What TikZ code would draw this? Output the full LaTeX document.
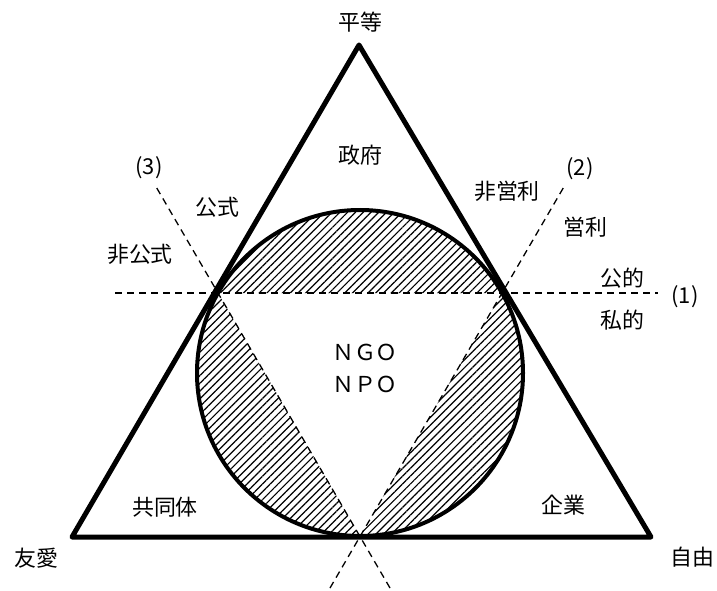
\documentclass[tikz,border=0pt]{standalone}
\usepackage{fontspec}
\setmainfont{Noto Sans CJK JP}
\usetikzlibrary{patterns.meta}
\begin{document}
\begin{tikzpicture}[x=1bp,y=-1bp,
  lbl/.style={font=\fontsize{22}{26}\selectfont, inner sep=0pt},
  dline/.style={dash pattern=on 7bp off 5bp, line width=1.3bp},
  hatch/.style={pattern={Lines[angle=45,distance=5.5bp,line width=1.2bp]}},
  thick circ/.style={line width=4bp},
  tri/.style={line width=5bp, line join=round}]
\path[fill=white] (0,0) rectangle (717,591);
\useasboundingbox (0,0) rectangle (717,591);
% geometry
\coordinate (C) at (360,373);
\coordinate (T) at (359,45);
\coordinate (BL) at (72,537);
\coordinate (BR) at (651,537);
\coordinate (P1) at (218,293);
\coordinate (P2) at (502,293);
\coordinate (B) at (360,536);
\coordinate (L1a) at (115,293);
\coordinate (L1b) at (658,293);
\coordinate (L2a) at (330,588);
\coordinate (L2b) at (565,185);
\coordinate (L3a) at (390,588);
\coordinate (L3b) at (155,185);
% hatched region
\fill[hatch, even odd rule] (C) circle[radius=163] (P1) -- (P2) -- (B) -- cycle;
% dashed lines
\draw[dline] (L1a) -- (L1b);
\draw[dline] (L2a) -- (L2b);
\draw[dline] (L3a) -- (L3b);
% circle and triangle
\draw[thick circ] (C) circle[radius=163];
\draw[tri] (T) -- (BL) -- (BR) -- cycle;
% labels
\node[lbl] (byodo) at (360,22) {平等};
\node[lbl] (seifu) at (360,155) {政府};
\node[lbl] (koshiki) at (217,207) {公式};
\node[lbl] (hikoshiki) at (140,254) {非公式};
\node[lbl] (n3) at (149,168) {(3)};
\node[lbl] (hieiri) at (507,191) {非営利};
\node[lbl] (n2) at (580,169) {(2)};
\node[lbl] (eiri) at (585,227) {営利};
\node[lbl] (koteki) at (622,278) {公的};
\node[lbl] (shiteki) at (622,320) {私的};
\node[lbl] (n1) at (685,297) {(1)};
\node[lbl] (ngo) at (365,352) {ＮＧＯ};
\node[lbl] (npo) at (365,384) {ＮＰＯ};
\node[lbl] (kyodotai) at (165,507) {共同体};
\node[lbl] (kigyo) at (563,505) {企業};
\node[lbl] (yuai) at (36,558) {友愛};
\node[lbl] (jiyu) at (692,557) {自由};
\end{tikzpicture}
\end{document}
